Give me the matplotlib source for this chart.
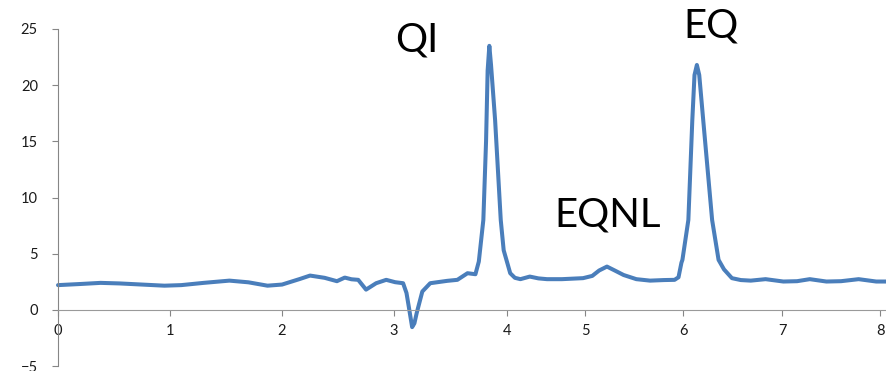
import matplotlib
matplotlib.use('Agg')
import matplotlib.pyplot as plt
import numpy as np

# 数据
x_vals = [0.00, 0.20, 0.38, 0.55, 0.75, 0.95, 1.10, 1.30, 1.53, 1.70, 1.87, 2.00,
          2.16, 2.25, 2.38, 2.49, 2.56, 2.62, 2.68, 2.75, 2.84, 2.93, 3.01, 3.08,
          3.11, 3.13, 3.16, 3.18, 3.20, 3.25, 3.32, 3.47, 3.56, 3.65, 3.72, 3.75,
          3.79, 3.814, 3.828, 3.843, 3.858, 3.894, 3.944, 3.97, 4.01, 4.04,
          4.10, 4.17, 4.29, 4.40, 4.51, 4.70, 4.85, 4.97, 5.07, 5.14, 5.22, 5.30,
          5.39, 5.52, 5.66, 5.80, 5.91, 5.95, 5.98, 5.99, 6.05, 6.09, 6.112, 6.136,
          6.16, 6.20, 6.29, 6.355, 6.41, 6.49, 6.58, 6.68, 6.83, 7.01, 7.15, 7.28,
          7.45, 7.60, 7.78, 7.96, 8.07]
y_vals = [2.20, 2.30, 2.40, 2.35, 2.25, 2.15, 2.20, 2.40, 2.60, 2.45, 2.15, 2.25,
          2.75, 3.05, 2.85, 2.55, 2.87, 2.72, 2.67, 1.80, 2.37, 2.67, 2.46, 2.37,
          1.50, 0.30, -1.54, -1.20, -0.30, 1.63, 2.37, 2.58, 2.67, 3.26, 3.17, 4.30,
          8.0, 15.0, 21.3, 23.5, 21.8, 16.9, 8.0, 5.3, 4.0, 3.26,
          2.85, 2.73, 2.96, 2.80, 2.73, 2.73, 2.78, 2.82, 3.02, 3.50, 3.85, 3.50,
          3.10, 2.73, 2.60, 2.65, 2.67, 2.90, 4.20, 4.45, 8.0, 16.9, 20.9, 21.8,
          20.9, 16.9, 8.0, 4.45, 3.60, 2.82, 2.65, 2.60, 2.73, 2.52, 2.55, 2.73,
          2.52, 2.55, 2.73, 2.52, 2.52]

x_ticks = [0, 1, 2, 3, 4, 5, 6, 7, 8]
y_ticks = [-5, 0, 5, 10, 15, 20, 25]

# 原图横轴刻度间距不均匀，用分段线性刻度还原
axis_vals = [0, 1, 2, 3, 4, 5, 6, 7, 8, 9]
axis_pos = [58, 170, 282, 394, 507, 585.3, 683.3, 782.3, 880, 978]


def forward(v):
    return np.interp(v, axis_vals, axis_pos)


def inverse(p):
    return np.interp(p, axis_pos, axis_vals)


plt.rcParams['font.family'] = ['Lato', 'DejaVu Sans']

fig = plt.figure(figsize=(8.87, 3.71), dpi=100)
ax = fig.add_axes([58 / 887, 5 / 371, 829 / 887, 337 / 371])

ax.plot(x_vals, y_vals, color='#4A7EBB', linewidth=2.9,
        solid_joinstyle='round', solid_capstyle='round', clip_on=False)

ax.set_xscale('function', functions=(forward, inverse))
ax.set_xlim(0, 8.07)
ax.set_ylim(-5, 25)
ax.set_xticks(x_ticks)
ax.set_xticklabels([str(t) for t in x_ticks])
ax.set_yticks(y_ticks)
ax.minorticks_off()

for s in ['top', 'right']:
    ax.spines[s].set_visible(False)
ax.spines['left'].set_color('#868686')
ax.spines['bottom'].set_color('#9a9a9a')
ax.spines['bottom'].set_position(('data', 0))

ax.tick_params(axis='y', direction='out', length=4.5, color='#868686',
               labelsize=10.5, labelcolor='#1a1a1a', pad=10)
ax.tick_params(axis='x', direction='out', length=4.5, color='#868686',
               labelsize=10.5, labelcolor='#1a1a1a', pad=6)

# 峰值标注
ax.text(3.20, 22.98, 'QI', fontsize=29, ha='center', va='baseline', color='black')
ax.text(5.23, 7.41, 'EQNL', fontsize=29, ha='center', va='baseline', color='black')
ax.text(6.28, 24.2, 'EQ', fontsize=29, ha='center', va='baseline', color='black',
        clip_on=False)

fig.savefig('out.png', dpi=100)
